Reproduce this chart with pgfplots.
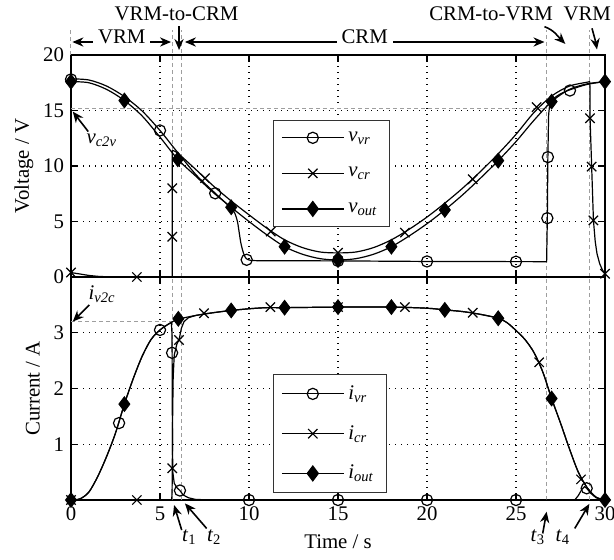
\documentclass[border=0pt]{standalone}
\usepackage{fontspec}
\setmainfont{Liberation Serif}
\usepackage{pgfplots}
\pgfplotsset{compat=1.18}
\usetikzlibrary{arrows.meta}
\definecolor{refgray}{gray}{0.62}
\begin{document}
\begin{tikzpicture}[font=\fontsize{10.4}{12.5}\selectfont,
  arr/.style={line width=0.8pt, -{Stealth[length=5.5pt,width=4.6pt]}},
  garr/.style={line width=0.8pt, {Stealth[length=5.5pt,width=4.6pt]}-{Stealth[length=5.5pt,width=4.6pt]}},
  gdash/.style={refgray, line width=0.5pt, dash pattern=on 2pt off 1.5pt},
]
\pgfplotsset{
  base/.style={
    scale only axis, width=267pt, xmin=0, xmax=30,
    xtick={0,5,...,30}, tick align=inside, tick pos=both,
    major tick length=3.5pt,
    axis line style={line width=0.8pt},
    every tick/.style={black, line width=0.6pt},
    grid=major, major grid style={black, line width=0.7pt, dash pattern=on 0.7pt off 2.3pt},
    /pgf/number format/assume math mode=true,
    clip=false,
    legend cell align=left,
    legend image code/.code={\draw[mark repeat=2,mark phase=2,##1] plot coordinates {(0pt,0pt) (15.5pt,0pt) (31pt,0pt)};},
    legend style={anchor=north west, draw=black!80, line width=0.5pt, fill=white,
      inner xsep=4pt, inner ysep=3.5pt, row sep=7.5pt},
  },
  curve/.style={black, line width=0.6pt, mark=none, forget plot},
  cmk/.style={only marks, forget plot, mark=o, mark size=2.8pt, mark options={fill=white, line width=0.6pt, black}},
  xmk/.style={only marks, forget plot, mark=x, mark size=3.3pt, mark options={line width=0.6pt, black}},
  dmk/.style={only marks, forget plot, mark=diamond*, mark size=3.7pt, mark options={fill=black, black}},
}
% ---------------- top axis: voltages ----------------
\begin{axis}[base, name=top, at={(0,0)}, anchor=south west, height=111pt,
  ymin=0, ymax=20, ytick={0,5,...,20}, xticklabels={}, ylabel={Voltage / V}, ylabel shift=-2pt,
  legend style={at={(0.3777,0.707)}}]
% reference lines
\draw[gdash] (axis cs:0,20) -- (axis cs:0,22.25);
\draw[gdash] (axis cs:5.71,0) -- (axis cs:5.71,22.25);
\draw[gdash] (axis cs:6.22,0) -- (axis cs:6.22,22.25);
\draw[gdash] (axis cs:26.74,0) -- (axis cs:26.74,22.25);
\draw[gdash] (axis cs:29.14,0) -- (axis cs:29.14,22.25);
\draw[gdash] (axis cs:0,15.15) -- (axis cs:26.74,15.15);
% v_out
\addplot[curve, smooth] coordinates {(0,17.6)(1,17.5)(2,16.9)(3,15.9)(4,14.5)(5,12.6)(6,10.6)(7,9.1)(8,7.6)(9,6.28)(10,5.0)(11,3.8)(12,2.73)(13,2.05)(14,1.65)(15,1.53)(16,1.65)(17,2.05)(18,2.73)(19,3.7)(20,4.8)(21,6.04)(22,7.4)(23,8.9)(24,10.48)(25,12.2)(26,14.1)(27,15.8)(28,16.9)(29,17.4)(30,17.6)};
% v_cr
\addplot[curve] coordinates {(0,0.4)(0.5,0.27)(1,0.14)(1.5,0.06)(2,0.02)(2.5,0)(5.69,0)(5.69,11.4)};
\addplot[curve, smooth] coordinates {(5.69,11.4)(6,11.15)(7,9.7)(8,8.2)(9,6.85)(10,5.6)(11,4.4)(12,3.35)(13,2.65)(14,2.25)(15,2.17)(16,2.25)(17,2.65)(18,3.35)(19,4.3)(20,5.4)(21,6.65)(22,8.0)(23,9.5)(24,11.1)(25,12.85)(26,14.8)(27,16.3)(28,17.2)(29,17.55)(29.15,17.6)};
\addplot[curve] coordinates {(29.15,17.6)(29.16,14.3)(29.25,9.94)(29.35,5.1)(29.45,3.2)(29.55,2.1)(29.7,1.2)(29.85,0.65)(30,0.3)};
% v_vr
\addplot[curve, smooth] coordinates {(0,17.85)(1,17.75)(2,17.2)(3,16.25)(4,14.95)(5,13.2)(5.7,11.8)(6.3,10.6)(7,9.25)(7.5,8.45)(8,7.7)(8.5,6.95)(9,6.2)(9.2,5.75)(9.35,5.0)(9.45,4.0)(9.55,3.0)(9.7,2.1)(9.85,1.65)(10.1,1.5)(10.5,1.47)};
\addplot[curve] coordinates {(10.5,1.47)(15,1.45)(20,1.4)(26.72,1.38)(26.76,5.3)(26.79,10.8)(26.83,14.5)};
\addplot[curve, smooth] coordinates {(26.83,14.5)(26.9,15.5)(27.1,16.05)(27.5,16.5)(28,16.85)(29,17.35)(30,17.6)};
% markers
\addplot[cmk] coordinates {(0,17.8)(5,13.2)(8.1,7.54)(9.87,1.55)(15,1.45)(20,1.4)(25,1.38)(26.76,5.3)(26.79,10.8)(28.03,16.8)};
\addplot[xmk] coordinates {(0,0.4)(3.7,0)(5.69,3.63)(5.69,8.0)(7.53,8.9)(11.22,4.1)(15,2.19)(18.76,4.0)(22.57,8.8)(26.16,15.3)(29.16,14.3)(29.25,9.94)(29.35,5.1)(30,0.3)};
\addplot[dmk] coordinates {(0,17.6)(3,15.9)(6,10.6)(9,6.28)(12,2.73)(15,1.53)(18,2.73)(21,6.04)(24,10.48)(27,15.8)(30,17.6)};
% legend
\addlegendimage{black, line width=0.6pt, mark=o, mark size=2.8pt, mark options={fill=white}}
\addlegendentry{\textit{v}\textsubscript{\textit{vr}}}
\addlegendimage{black, line width=0.6pt, mark=x, mark size=3.3pt}
\addlegendentry{\textit{v}\textsubscript{\textit{cr}}}
\addlegendimage{black, line width=0.6pt, mark=diamond*, mark size=3.7pt, mark options={fill=black}}
\addlegendentry{\textit{v}\textsubscript{\textit{out}}}
% annotations
\draw[garr] (axis cs:0.08,21.17) -- (axis cs:5.62,21.17) node[midway, anchor=base, yshift=-0.8pt, fill=white, inner xsep=2.5pt, inner ysep=1.5pt] {VRM};
\draw[garr] (axis cs:6.4,21.17) -- (axis cs:26.6,21.17) node[midway, anchor=base, yshift=-0.8pt, fill=white, inner xsep=2.5pt, inner ysep=1.5pt] {CRM};
\node[anchor=base, inner sep=0pt] at (axis cs:5.93,23.15) {VRM-to-CRM};
\node[anchor=base, inner sep=0pt] at (axis cs:23.6,23.15) {CRM-to-VRM};
\node[anchor=base, inner sep=0pt] at (axis cs:29.0,23.15) {VRM};
\draw[arr] (axis cs:6.07,22.6) -- (axis cs:6.07,20.45);
\draw[arr] (axis cs:26.6,22.55) to[out=-20,in=135] (axis cs:27.77,21.0);
\draw[arr] (axis cs:29.27,22.4) to[out=-75,in=100] (axis cs:29.55,20.5);
\draw[arr] (axis cs:0.97,13.1) -- (axis cs:0.1,14.9);
\node[anchor=base west, inner sep=0pt] at (axis cs:0.85,12.04) {\textit{v}\textsubscript{\textit{c2v}}};
\end{axis}
% ---------------- bottom axis: currents ----------------
\begin{axis}[base, name=bot, at={(0,0)}, anchor=north west, height=111.5pt,
  ymin=0, ymax=4, ytick={1,2,3}, xlabel={Time / s}, ylabel={Current / A},
  legend style={at={(0.3777,0.565)}}]
\draw[gdash] (axis cs:5.71,0) -- (axis cs:5.71,4);
\draw[gdash] (axis cs:6.22,0) -- (axis cs:6.22,4);
\draw[gdash] (axis cs:26.74,0) -- (axis cs:26.74,4);
\draw[gdash] (axis cs:29.14,0) -- (axis cs:29.14,4);
\draw[gdash] (axis cs:0,3.2) -- (axis cs:5.71,3.2);
% i_out
\addplot[curve, smooth] coordinates {(0,0)(0.5,0.02)(1,0.14)(1.5,0.42)(2,0.78)(2.5,1.2)(3,1.72)(3.5,2.18)(4,2.58)(4.5,2.88)(5,3.05)(5.5,3.16)(6,3.24)(7,3.31)(8,3.36)(9,3.40)(10,3.43)(11,3.45)(12,3.45)(15,3.46)(18,3.46)(20,3.44)(21,3.41)(22,3.38)(23,3.33)(24,3.26)(24.5,3.18)(25,3.04)(25.5,2.88)(26,2.65)(26.5,2.3)(27,1.82)(27.5,1.38)(28,0.92)(28.5,0.5)(29,0.22)(29.5,0.05)(30,0)};
% i_vr
\addplot[curve, smooth] coordinates {(0,0)(0.5,0.02)(1,0.14)(1.5,0.42)(2,0.78)(2.5,1.2)(3,1.72)(3.5,2.18)(4,2.58)(4.5,2.88)(5,3.05)(5.5,3.16)(5.64,3.18)};
\addplot[curve] coordinates {(5.64,3.18)(5.67,3.0)(5.68,2.64)(5.70,1.0)(5.72,0.5)(5.8,0.3)(5.95,0.22)(6.12,0.17)(6.3,0.09)(6.6,0.04)(7,0.01)(8,0)(28.3,0)(28.5,0.08)(28.7,0.19)(28.85,0.24)(28.97,0.21)(29.2,0.12)(29.5,0.04)(30,0)};
% i_cr
\addplot[curve] coordinates {(0,0)(5.66,0)(5.68,0.2)(5.69,0.57)(5.71,1.5)(5.74,2.2)(5.8,2.6)(5.95,2.8)(6.07,2.87)(6.2,3.08)(6.35,3.2)(6.6,3.27)(7,3.31)};
\addplot[curve, smooth] coordinates {(7,3.31)(8,3.36)(9,3.40)(10,3.43)(11,3.45)(12,3.45)(15,3.46)(18,3.46)(20,3.44)(21,3.41)(22,3.38)(23,3.33)(24,3.26)(24.5,3.18)(25,3.04)(25.5,2.88)(26,2.65)(26.5,2.3)(27,1.82)(27.5,1.38)(28,0.92)(28.5,0.5)(29,0.22)(29.5,0.05)(30,0)};
% markers
\addplot[cmk] coordinates {(2.7,1.38)(5.0,3.05)(5.68,2.64)(6.12,0.17)(10,0)(15,0)(20,0)(25,0)(28.97,0.21)};
\addplot[xmk] coordinates {(0,0)(3.7,0)(5.69,0.57)(6.07,2.87)(7.47,3.35)(11.2,3.46)(15,3.46)(18.76,3.46)(22.57,3.36)(26.3,2.47)(28.65,0.37)};
\addplot[dmk] coordinates {(0,0)(3,1.72)(6.03,3.25)(9,3.40)(12,3.45)(15,3.46)(18,3.46)(21,3.41)(24,3.26)(27,1.82)(30,0)};
% legend
\addlegendimage{black, line width=0.6pt, mark=o, mark size=2.8pt, mark options={fill=white}}
\addlegendentry{\textit{i}\textsubscript{\textit{vr}}}
\addlegendimage{black, line width=0.6pt, mark=x, mark size=3.3pt}
\addlegendentry{\textit{i}\textsubscript{\textit{cr}}}
\addlegendimage{black, line width=0.6pt, mark=diamond*, mark size=3.7pt, mark options={fill=black}}
\addlegendentry{\textit{i}\textsubscript{\textit{out}}}
% annotations
\draw[arr] (axis cs:1.03,3.5) -- (axis cs:0.1,3.2);
\node[anchor=base west, inner sep=0pt] at (axis cs:0.97,3.59) {\textit{i}\textsubscript{\textit{v2c}}};
\draw[arr] (axis cs:6.22,-0.54) -- (axis cs:5.79,-0.09);
\node[anchor=base west, inner sep=0pt] at (axis cs:6.22,-0.74) {\textit{t}\textsubscript{1}};
\draw[arr] (axis cs:7.62,-0.51) -- (axis cs:6.4,-0.06);
\node[anchor=base west, inner sep=0pt] at (axis cs:7.62,-0.74) {\textit{t}\textsubscript{2}};
\draw[arr] (axis cs:26.5,-0.6) -- (axis cs:26.72,-0.21);
\node[anchor=base west, inner sep=0pt] at (axis cs:25.8,-0.74) {\textit{t}\textsubscript{3}};
\draw[arr] (axis cs:28.3,-0.51) -- (axis cs:29.12,-0.07);
\node[anchor=base west, inner sep=0pt] at (axis cs:27.2,-0.74) {\textit{t}\textsubscript{4}};
\end{axis}
\pgfresetboundingbox
\path[use as bounding box] (-35.5pt,-141.5pt) rectangle (271.5pt,138.5pt);
\end{tikzpicture}
\end{document}
